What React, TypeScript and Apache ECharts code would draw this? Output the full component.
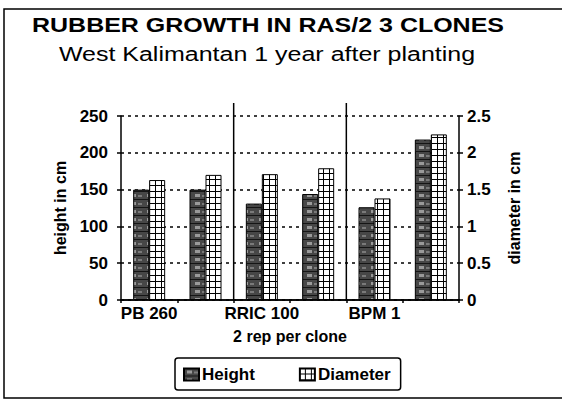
import React, { useEffect, useRef } from "react";
import * as echarts from "echarts";

const categories = ["PB 260", "PB 260 rep 2", "RRIC 100", "RRIC 100 rep 2", "BPM 1", "BPM 1 rep 2"];
const heightValues = [150, 150, 131, 144, 126, 218];
const diameterValues = [1.63, 1.7, 1.71, 1.79, 1.38, 2.25];
const titleText = "RUBBER GROWTH IN RAS/2 3 CLONES";
const subtitleText = "West Kalimantan 1 year after planting";
const xAxisName = "2 rep per clone";
const leftAxisName = "height in cm";
const rightAxisName = "diameter in cm";
const seriesNames = ["Height", "Diameter"];

const FONT = "'Liberation Sans', Arial, sans-serif";

function heightPattern() {
  const c = document.createElement("canvas");
  c.width = 16;
  c.height = 8;
  const g = c.getContext("2d")!;
  g.fillStyle = "#474747";
  g.fillRect(0, 0, 16, 8);
  g.fillStyle = "#9a9a9a";
  g.fillRect(3, 2, 5, 3);
  g.fillStyle = "#7a7a7a";
  g.fillRect(10, 3, 4, 2);
  g.fillStyle = "#151515";
  g.fillRect(0, 7, 16, 1);
  return { image: c, repeat: "repeat", imageWidth: 16, imageHeight: 8 };
}

function gridPattern() {
  const c = document.createElement("canvas");
  c.width = 6;
  c.height = 6;
  const g = c.getContext("2d")!;
  g.fillStyle = "#ffffff";
  g.fillRect(0, 0, 6, 6);
  g.fillStyle = "#000000";
  g.fillRect(5, 0, 1, 6);
  g.fillRect(0, 5, 6, 1);
  return { image: c, repeat: "repeat", imageWidth: 6, imageHeight: 6 };
}

export default function App() {
  const ref = useRef<HTMLDivElement>(null);
  useEffect(() => {
    if (!ref.current) return;
    const chart = echarts.init(ref.current, undefined, { renderer: "svg" });
    const labelStyle = { fontFamily: FONT, fontWeight: "bold" as const, fontSize: 16, color: "#000" };
    const option: any = {
      animation: false,
      backgroundColor: "#fff",
      grid: { left: 121, right: 103, top: 116, bottom: 101 },
      legend: {
        data: seriesNames,
        left: 175,
        top: 358,
        orient: "horizontal",
        itemWidth: 15,
        itemHeight: 12,
        itemGap: 44,
        padding: [8, 10, 7, 8],
        borderColor: "#000",
        borderWidth: 1.5,
        borderRadius: 3,
        icon: "rect",
        textStyle: { ...labelStyle, fontSize: 17, padding: [0, 0, 0, -2] },
      },
      xAxis: [
        {
          type: "category",
          data: categories,
          position: "bottom",
          boundaryGap: true,
          name: xAxisName,
          nameLocation: "middle",
          nameGap: 28,
          nameTextStyle: labelStyle,
          axisLine: { lineStyle: { color: "#000", width: 1.5 } },
          axisTick: { show: true, interval: 0, length: 3, lineStyle: { color: "#000", width: 1.5 } },
          axisLabel: { ...labelStyle, fontSize: 17, interval: 1, margin: 5 },
          splitLine: { show: false },
        },
        {
          type: "category",
          data: categories,
          position: "top",
          axisLine: { lineStyle: { color: "#000", width: 1.5 } },
          axisTick: { show: false },
          axisLabel: { show: false },
          splitLine: { show: false },
        },
      ],
      yAxis: [
        {
          type: "value",
          min: 0,
          max: 250,
          interval: 50,
          position: "left",
          name: leftAxisName,
          nameLocation: "middle",
          nameRotate: 90,
          nameGap: 52,
          nameTextStyle: labelStyle,
          axisLine: { show: true, lineStyle: { color: "#000", width: 1.5 } },
          axisTick: { show: true, length: 4, lineStyle: { color: "#000", width: 1.5 } },
          axisLabel: { ...labelStyle, fontSize: 17, margin: 13 },
          splitLine: { show: true, lineStyle: { color: "#000", width: 1.5, type: [3, 4] } },
        },
        {
          type: "value",
          min: 0,
          max: 2.5,
          interval: 0.5,
          position: "right",
          name: rightAxisName,
          nameLocation: "middle",
          nameRotate: 90,
          nameGap: 47,
          nameTextStyle: labelStyle,
          axisLine: { show: true, lineStyle: { color: "#000", width: 1.5 } },
          axisTick: { show: true, length: 4, lineStyle: { color: "#000", width: 1.5 } },
          axisLabel: { ...labelStyle, fontSize: 17, margin: 8 },
          splitLine: { show: false },
        },
      ],
      series: [
        {
          name: seriesNames[0],
          type: "bar",
          xAxisIndex: 0,
          yAxisIndex: 0,
          data: heightValues,
          barWidth: 16,
          barGap: "0%",
          itemStyle: { color: heightPattern(), borderColor: "#000", borderWidth: 1 },
        },
        {
          name: seriesNames[1],
          type: "bar",
          xAxisIndex: 0,
          yAxisIndex: 1,
          data: diameterValues,
          barWidth: 16,
          barGap: "0%",
          itemStyle: { color: gridPattern(), borderColor: "#000", borderWidth: 1 },
        },
      ],
    };
    chart.setOption(option);

    const cx = (i: number) => chart.convertToPixel({ xAxisIndex: 0 }, i) as number;
    const yTop = (chart.convertToPixel({ yAxisIndex: 0 }, 250) as number) - 13;
    const yBottom = chart.convertToPixel({ yAxisIndex: 0 }, 0) as number;
    const sep1 = (cx(1) + cx(2)) / 2;
    const sep2 = (cx(3) + cx(4)) / 2;

    chart.setOption({
      graphic: [
        {
          type: "rect",
          silent: true,
          shape: { x: 4, y: 9, width: 600, height: 389 },
          style: { fill: "none", stroke: "#000", lineWidth: 1.5 },
        },
        {
          type: "text",
          x: 268,
          y: 25,
          scaleX: 1.25,
          style: {
            text: titleText,
            font: `bold 20px ${FONT}`,
            fill: "#000",
            align: "center",
            verticalAlign: "middle",
          },
        },
        {
          type: "text",
          x: 267,
          y: 54,
          scaleX: 1.25,
          style: {
            text: subtitleText,
            font: `20px ${FONT}`,
            fill: "#000",
            align: "center",
            verticalAlign: "middle",
          },
        },
        {
          type: "line",
          silent: true,
          shape: { x1: sep1, y1: yTop, x2: sep1, y2: yBottom },
          style: { stroke: "#000", lineWidth: 1.5 },
        },
        {
          type: "line",
          silent: true,
          shape: { x1: sep2, y1: yTop, x2: sep2, y2: yBottom },
          style: { stroke: "#000", lineWidth: 1.5 },
        },
      ],
    });

    return () => chart.dispose();
  }, []);
  return (
    <div
      ref={ref}
      style={{ position: "absolute", left: 0, top: 0, width: 562, height: 401, background: "#fff" }}
    />
  );
}
